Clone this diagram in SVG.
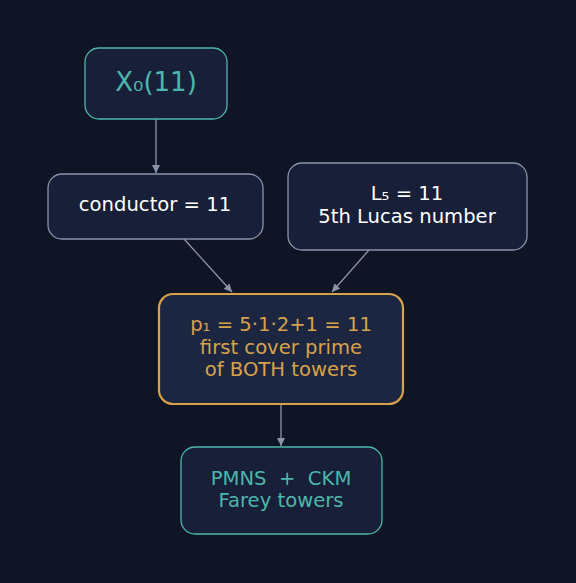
<svg xmlns="http://www.w3.org/2000/svg" width="576" height="583" viewBox="0 0 576 583">
<style>
text{font-family:"DejaVu Sans","Liberation Sans",sans-serif;text-anchor:middle;white-space:pre}
.n{fill:#172038;stroke:#8a93a8;stroke-width:1.3}
.t{fill:#172038;stroke:#4db6ac;stroke-width:1.3}
.g{fill:#1d2640;stroke:#d6a24c;stroke-width:2.2}
.w{fill:#ffffff;font-size:19.6px}
.c{fill:#4db6ac;font-size:19.6px}
.o{fill:#d6a24c;font-size:19.6px}
.e{stroke:#8a93a8;stroke-width:1.3;fill:none;marker-end:url(#a)}
</style>
<defs>
<marker id="a" viewBox="0 0 10 10" refX="10" refY="5" markerWidth="8" markerHeight="8" markerUnits="userSpaceOnUse" orient="auto">
<path d="M0,0L10,5L0,10z" fill="#8a93a8"/>
</marker>
</defs>
<rect width="576" height="583" fill="#0f1524"/>
<g id="edges">
<path class="e" d="M156,119L156,173"/>
<path class="e" d="M184,239L232,292"/>
<path class="e" d="M369,250L332,292"/>
<path class="e" d="M281,404L281,446"/>
</g>
<g id="x0">
<rect class="t" x="85" y="48" width="142" height="71" rx="14"/>
<text class="c" x="156" y="91" style="font-size:26px">X₀(11)</text>
</g>
<g id="conductor">
<rect class="n" x="48" y="174" width="215" height="65" rx="14"/>
<text class="w" x="155" y="211">conductor = 11</text>
</g>
<g id="lucas">
<rect class="n" x="288" y="163" width="239" height="87" rx="14"/>
<text class="w" x="407" y="200">L₅ = 11</text>
<text class="w" x="407" y="223">5th Lucas number</text>
</g>
<g id="p1">
<rect class="g" x="159" y="294" width="244" height="110" rx="14"/>
<text class="o" x="281" y="331">p₁ = 5·1·2+1 = 11</text>
<text class="o" x="281" y="354">first cover prime</text>
<text class="o" x="281" y="376">of BOTH towers</text>
</g>
<g id="towers">
<rect class="t" x="181" y="447" width="201" height="87" rx="14"/>
<text class="c" x="281" y="485">PMNS  +  CKM</text>
<text class="c" x="281" y="507">Farey towers</text>
</g>
</svg>
